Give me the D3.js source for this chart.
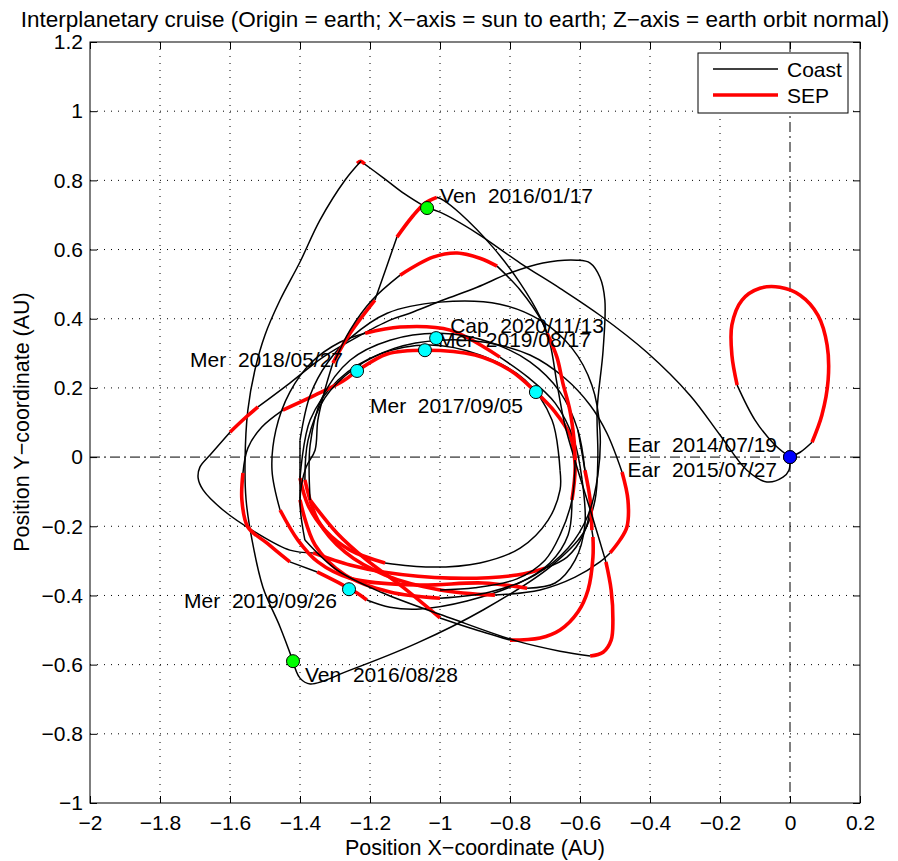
<!DOCTYPE html>
<html>
<head>
<meta charset="utf-8">
<script src="https://cdn.jsdelivr.net/npm/d3@7"></script>
<style>
  body { margin: 0; background: #fff; }
  svg { display: block; }
  text { font-family: "Liberation Sans", Arial, Helvetica, sans-serif; fill: #000; }
</style>
</head>
<body>
<div class="chart"></div>
<script>
'use strict';

/*---------------------------------------------------------------
ticks
---------------------------------------------------------------*/
var xTicks = [-2, -1.8, -1.6, -1.4, -1.2, -1, -0.8, -0.6, -0.4, -0.2, 0, 0.2];
var xTickLabels = ['\u22122', '\u22121.8', '\u22121.6', '\u22121.4', '\u22121.2', '\u22121', '\u22120.8', '\u22120.6', '\u22120.4', '\u22120.2', '0', '0.2'];
var yTicks = [-1, -0.8, -0.6, -0.4, -0.2, 0, 0.2, 0.4, 0.6, 0.8, 1, 1.2];
var yTickLabels = ['\u22121', '\u22120.8', '\u22120.6', '\u22120.4', '\u22120.2', '0', '0.2', '0.4', '0.6', '0.8', '1', '1.2'];

/*---------------------------------------------------------------
trajectory pieces (AU)
---------------------------------------------------------------*/
// earth resonant loop
var earthLoop = [
    [[0, 0], [0.029, 0.014], [0.063, 0.043]],
    [[0.063, 0.043], [0.091, 0.121], [0.109, 0.223], [0.106, 0.324], [0.08, 0.41], [0.029, 0.468], [-0.029, 0.491], [-0.086, 0.488], [-0.137, 0.454], [-0.166, 0.382], [-0.166, 0.295], [-0.151, 0.208]],
    [[-0.151, 0.208], [-0.1, 0.107], [-0.043, 0.035], [0, 0]]
];
var earthLoopTypes = ['coast', 'sep', 'coast'];

// earth -> venus -> apex -> venus
var venusLegs = [
    [[0, 0], [-0.003, -0.038], [-0.02, -0.058], [-0.066, -0.072], [-0.123, -0.038], [-0.2, 0.064], [-0.286, 0.179], [-0.409, 0.303], [-0.543, 0.41], [-0.657, 0.488], [-0.771, 0.561], [-0.894, 0.647], [-1.0, 0.708], [-1.037, 0.72]],
    [[-1.037, 0.72], [-1.1, 0.76], [-1.16, 0.806], [-1.226, 0.855]],
    [[-1.237, 0.849], [-1.226, 0.855], [-1.215, 0.847]],
    [[-1.226, 0.855], [-1.271, 0.801], [-1.343, 0.685], [-1.4, 0.564], [-1.457, 0.454], [-1.5, 0.353], [-1.529, 0.251], [-1.549, 0.136], [-1.557, -0.009], [-1.554, -0.124], [-1.537, -0.24], [-1.506, -0.376], [-1.457, -0.491], [-1.42, -0.59]]
];
var venusLegsTypes = ['coast', 'coast', 'sep', 'coast'];

// after second venus: big loop to the left tip
var outerLoop = [
    [[-1.42, -0.59], [-1.4, -0.639], [-1.371, -0.656], [-1.257, -0.616], [-1.066, -0.538], [-0.877, -0.442], [-0.686, -0.318], [-0.591, -0.22], [-0.557, -0.124], [-0.549, 0], [-0.551, 0.136], [-0.534, 0.309], [-0.529, 0.454], [-0.543, 0.52], [-0.571, 0.561], [-0.609, 0.569], [-0.706, 0.561], [-0.8, 0.532], [-0.894, 0.491], [-0.991, 0.454], [-1.086, 0.416], [-1.143, 0.396], [-1.237, 0.347], [-1.334, 0.289], [-1.429, 0.214], [-1.52, 0.145]],
    [[-1.52, 0.145], [-1.557, 0.113], [-1.6, 0.072]],
    [[-1.6, 0.072], [-1.657, 0.006], [-1.686, -0.029], [-1.691, -0.061], [-1.677, -0.095], [-1.62, -0.153], [-1.523, -0.22], [-1.429, -0.269], [-1.363, -0.277]],
    [[-1.363, -0.277], [-1.257, -0.312], [-1.163, -0.332], [-0.971, -0.35], [-0.78, -0.341], [-0.7, -0.321]],
    [[-0.7, -0.321], [-0.637, -0.289], [-0.591, -0.225], [-0.571, -0.139], [-0.586, -0.038], [-0.606, 0.078]]
];
var outerLoopTypes = ['coast', 'sep', 'coast', 'sep', 'coast'];

// mercury phase loops
var ring1 = [
    [[-0.657, -0.038], [-0.68, 0.107], [-0.757, 0.223], [-0.886, 0.295], [-1.029, 0.324], [-1.171, 0.298], [-1.291, 0.223], [-1.371, 0.107], [-1.4, -0.061]],
    [[-1.4, -0.061], [-1.377, -0.139], [-1.329, -0.211], [-1.257, -0.269], [-1.157, -0.306]],
    [[-1.157, -0.306], [-1.029, -0.318], [-0.886, -0.306], [-0.771, -0.263], [-0.691, -0.182], [-0.657, -0.095], [-0.657, -0.038]]
];
var ring1Types = ['coast', 'sep', 'coast'];

var ring2 = [
    [[-0.623, -0.124], [-0.614, -0.023], [-0.629, 0.064], [-0.671, 0.13], [-0.726, 0.188], [-0.8, 0.251], [-0.9, 0.295], [-1.043, 0.309], [-1.151, 0.298], [-1.237, 0.249], [-1.277, 0.22], [-1.357, 0.179], [-1.449, 0.136]],
    [[-1.449, 0.136], [-1.509, 0.087], [-1.549, 0.026], [-1.563, -0.046]],
    [[-1.563, -0.046], [-1.566, -0.124], [-1.549, -0.202], [-1.494, -0.249], [-1.429, -0.303]],
    [[-1.429, -0.303], [-1.351, -0.332]],
    [[-1.351, -0.332], [-1.277, -0.37], [-1.237, -0.393], [-1.209, -0.413]],
    [[-1.209, -0.413], [-1.143, -0.434], [-1.057, -0.439], [-0.923, -0.416], [-0.78, -0.367], [-0.686, -0.306], [-0.634, -0.225], [-0.623, -0.124]]
];
var ring2Types = ['sep', 'coast', 'sep', 'coast', 'sep', 'coast'];

var ring3 = [
    [[-0.594, -0.066], [-0.617, 0.049], [-0.671, 0.156], [-0.749, 0.231], [-0.829, 0.289]],
    [[-0.829, 0.289], [-0.971, 0.367], [-1.114, 0.376], [-1.214, 0.358]],
    [[-1.214, 0.358], [-1.286, 0.332], [-1.366, 0.275], [-1.429, 0.188], [-1.469, 0.078], [-1.48, -0.038], [-1.457, -0.153]],
    [[-1.457, -0.153], [-1.406, -0.24], [-1.349, -0.303], [-1.257, -0.35], [-1.066, -0.37], [-0.877, -0.364], [-0.751, -0.379]],
    [[-0.751, -0.379], [-0.671, -0.364], [-0.614, -0.298], [-0.586, -0.197], [-0.594, -0.066]]
];
var ring3Types = ['coast', 'sep', 'coast', 'sep', 'coast'];

var ring4 = [
    [[-0.514, -0.277], [-0.486, -0.24], [-0.466, -0.202], [-0.463, -0.124], [-0.48, -0.043]],
    [[-0.48, -0.043], [-0.523, 0.069], [-0.571, 0.15], [-0.643, 0.228], [-0.743, 0.295], [-0.871, 0.332], [-1.0, 0.338], [-1.129, 0.315], [-1.243, 0.257], [-1.329, 0.171], [-1.377, 0.049], [-1.386, -0.066]],
    [[-1.386, -0.066], [-1.349, -0.182], [-1.271, -0.275], [-1.157, -0.341], [-1.0, -0.384], [-0.843, -0.399]],
    [[-0.843, -0.399], [-0.714, -0.384], [-0.614, -0.347], [-0.543, -0.303], [-0.514, -0.277]]
];
var ring4Types = ['sep', 'coast', 'sep', 'coast'];

var ring5 = [
    [[-1.371, -0.124], [-1.294, -0.22], [-1.209, -0.298], [-1.106, -0.376], [-1.0, -0.465]],
    [[-1.0, -0.465], [-0.914, -0.494], [-0.8, -0.529]],
    [[-0.8, -0.529], [-0.714, -0.523], [-0.657, -0.5], [-0.606, -0.448], [-0.577, -0.384], [-0.563, -0.289], [-0.563, -0.231]],
    [[-0.563, -0.231], [-0.566, -0.211]],
    [[-0.566, -0.211], [-0.571, -0.124], [-0.586, -0.038]],
    [[-0.586, -0.038], [-0.606, 0.078], [-0.657, 0.188], [-0.743, 0.275], [-0.857, 0.332], [-1.0, 0.358], [-1.143, 0.338], [-1.257, 0.28], [-1.337, 0.171], [-1.371, 0.035], [-1.371, -0.124]]
];
var ring5Types = ['sep', 'coast', 'sep', 'coast', 'sep', 'coast'];

var ring6 = [
    [[-1.4, 0.049], [-1.371, 0.179], [-1.32, 0.275], [-1.257, 0.344], [-1.151, 0.416], [-1.0, 0.448], [-0.829, 0.442], [-0.714, 0.396], [-0.623, 0.315], [-0.566, 0.208], [-0.543, 0.078], [-0.549, -0.052], [-0.577, -0.168], [-0.634, -0.263], [-0.729, -0.341], [-0.857, -0.39], [-1.0, -0.408]],
    [[-1.0, -0.408], [-1.143, -0.39], [-1.271, -0.341], [-1.357, -0.254], [-1.4, -0.124]],
    [[-1.4, -0.124], [-1.4, 0.049]]
];
var ring6Types = ['coast', 'sep', 'coast'];

// pass over the first venus point
var venusArc = [
    [[-1.386, -0.24], [-1.4, -0.124], [-1.383, -0.03], [-1.357, 0.02], [-1.349, 0.107], [-1.329, 0.194], [-1.306, 0.272]],
    [[-1.306, 0.272], [-1.257, 0.358], [-1.186, 0.454]],
    [[-1.186, 0.454], [-1.154, 0.546], [-1.123, 0.636]],
    [[-1.123, 0.636], [-1.08, 0.694], [-1.043, 0.734], [-1.009, 0.751]],
    [[-1.009, 0.751], [-0.991, 0.743], [-0.943, 0.705], [-0.849, 0.607], [-0.771, 0.503], [-0.714, 0.405], [-0.686, 0.329], [-0.666, 0.214], [-0.643, 0.092], [-0.606, -0.038], [-0.566, -0.168], [-0.526, -0.303]],
    [[-0.526, -0.303], [-0.511, -0.384], [-0.506, -0.471], [-0.511, -0.529], [-0.534, -0.564], [-0.571, -0.575]],
    [[-0.571, -0.575], [-0.657, -0.561], [-0.78, -0.532], [-0.971, -0.465], [-1.163, -0.393], [-1.294, -0.327], [-1.386, -0.24]]
];
var venusArcTypes = ['coast', 'sep', 'coast', 'sep', 'coast', 'sep', 'coast'];

var topArc = [
    [[-1.3, 0.28], [-1.257, 0.367], [-1.194, 0.454], [-1.114, 0.526]],
    [[-1.114, 0.526], [-1.02, 0.578], [-0.951, 0.59], [-0.886, 0.575], [-0.837, 0.552]],
    [[-0.837, 0.552], [-0.771, 0.483], [-0.706, 0.387], [-0.694, 0.358]],
    [[-0.694, 0.358], [-0.666, 0.289], [-0.649, 0.214], [-0.629, 0.136], [-0.617, 0.049], [-0.614, -0.009]],
    [[-0.614, -0.009], [-0.623, -0.124], [-0.657, -0.225], [-0.7, -0.298], [-0.78, -0.352], [-0.9, -0.378], [-1.0, -0.384]]
];
var topArcTypes = ['coast', 'sep', 'coast', 'sep', 'coast'];

/*---------------------------------------------------------------
flybys
---------------------------------------------------------------*/
var flybyBody = ['Ear', 'Ear', 'Ven', 'Ven', 'Mer', 'Mer', 'Mer', 'Mer', 'Cap'];
var flybyDate = ['2014/07/19', '2015/07/27', '2016/01/17', '2016/08/28', '2017/09/05', '2018/05/27', '2019/08/17', '2019/09/26', '2020/11/13'];
var flybyX = [0, 0, -1.037, -1.42, -0.726, -1.237, -1.043, -1.26, -1.011];
var flybyY = [0, 0, 0.72, -0.59, 0.188, 0.249, 0.309, -0.382, 0.344];

var legendNames = ['Coast', 'SEP'];

/*---------------------------------------------------------------
setup
---------------------------------------------------------------*/
var w = 898,
    h = 861;

var x = d3.scaleLinear().domain([-2, 0.2]).range([90, 860]);
var y = d3.scaleLinear().domain([-1, 1.2]).range([803, 42]);

var colour = { coast: '#000000', sep: '#ff0000' };
var width = { coast: 1.5, sep: 3.6 };

var svg = d3.select('.chart')
    .append('svg')
    .attr('width', w)
    .attr('height', h);

svg.append('rect').attr('width', w).attr('height', h).attr('fill', '#fff');

/*---------------------------------------------------------------
grid + zero lines
---------------------------------------------------------------*/
var grid = svg.append('g')
    .attr('stroke', '#000')
    .attr('stroke-width', 1)
    .attr('stroke-dasharray', '1,6');

grid.selectAll('.gx')
    .data(xTicks.slice(1, -1).filter(function(d) { return d !== 0; }))
    .enter()
    .append('line')
    .attr('x1', function(d) { return x(d); })
    .attr('x2', function(d) { return x(d); })
    .attr('y1', y(1.2))
    .attr('y2', y(-1));

grid.selectAll('.gy')
    .data(yTicks.slice(1, -1).filter(function(d) { return d !== 0; }))
    .enter()
    .append('line')
    .attr('y1', function(d) { return y(d); })
    .attr('y2', function(d) { return y(d); })
    .attr('x1', x(-2))
    .attr('x2', x(0.2));

var zero = svg.append('g')
    .attr('stroke', '#000')
    .attr('stroke-width', 1)
    .attr('stroke-dasharray', '10,4,2,4');
zero.append('line').attr('x1', x(-2)).attr('x2', x(0.2)).attr('y1', y(0)).attr('y2', y(0));
zero.append('line').attr('x1', x(0)).attr('x2', x(0)).attr('y1', y(1.2)).attr('y2', y(-1));

/*---------------------------------------------------------------
trajectory
---------------------------------------------------------------*/
var segments = [];
[
    [earthLoop, earthLoopTypes],
    [venusLegs, venusLegsTypes],
    [outerLoop, outerLoopTypes],
    [ring1, ring1Types],
    [ring2, ring2Types],
    [ring3, ring3Types],
    [ring4, ring4Types],
    [ring5, ring5Types],
    [ring6, ring6Types],
    [venusArc, venusArcTypes],
    [topArc, topArcTypes]
].forEach(function(group) {
    group[0].forEach(function(pts, i) {
        segments.push({ type: group[1][i], pts: pts });
    });
});

var line = d3.line()
    .x(function(d) { return x(d[0]); })
    .y(function(d) { return y(d[1]); })
    .curve(d3.curveCatmullRom.alpha(0.5));

var traj = svg.append('g').attr('fill', 'none');

traj.selectAll('path')
    .data(segments)
    .enter()
    .append('path')
    .attr('d', function(d) { return line(d.pts); })
    .attr('stroke', function(d) { return colour[d.type]; })
    .attr('stroke-width', function(d) { return width[d.type]; })
    .attr('stroke-linejoin', 'round');

/*---------------------------------------------------------------
flyby labels + dots
---------------------------------------------------------------*/
var labelOffset = [[-13, -5, 'end'], [-13, 20, 'end'], [13, -5, 'start'], [12, 21, 'start'], [-13, 21, 'end'], [-14, -4, 'end'], [13, -3, 'start'], [-12, 19, 'end'], [14, -5, 'start']];
var dotColour = { Ear: '#0000ff', Ven: '#00ff00', Mer: '#00ffff', Cap: '#00ffff' };

svg.append('g').selectAll('text')
    .data(flybyBody)
    .enter()
    .append('text')
    .attr('x', function(d, i) { return x(flybyX[i]) + labelOffset[i][0]; })
    .attr('y', function(d, i) { return y(flybyY[i]) + labelOffset[i][1]; })
    .attr('text-anchor', function(d, i) { return labelOffset[i][2]; })
    .attr('font-size', '21px')
    .text(function(d, i) { return d + '\u00a0 ' + flybyDate[i]; });

svg.append('g').selectAll('circle')
    .data(flybyBody)
    .enter()
    .append('circle')
    .attr('cx', function(d, i) { return x(flybyX[i]); })
    .attr('cy', function(d, i) { return y(flybyY[i]); })
    .attr('r', 6.5)
    .attr('fill', function(d) { return dotColour[d]; })
    .attr('stroke', '#000')
    .attr('stroke-width', 1);

/*---------------------------------------------------------------
axes
---------------------------------------------------------------*/
function styleAxis(g) {
    g.select('.domain').remove();
    g.selectAll('.tick line').attr('stroke', '#000');
    g.selectAll('.tick text').attr('font-size', '21px').attr('fill', '#000');
    g.attr('font-family', null).attr('font-size', null);
}

svg.append('g')
    .attr('transform', 'translate(0,' + y(-1) + ')')
    .call(d3.axisBottom(x).tickValues(xTicks).tickFormat(function(d, i) { return xTickLabels[i]; })
        .tickSizeInner(-7).tickSizeOuter(0).tickPadding(12))
    .call(styleAxis);

svg.append('g')
    .attr('transform', 'translate(0,' + y(1.2) + ')')
    .call(d3.axisTop(x).tickValues(xTicks).tickFormat('').tickSizeInner(-7).tickSizeOuter(0))
    .call(styleAxis);

svg.append('g')
    .attr('transform', 'translate(' + x(-2) + ',0)')
    .call(d3.axisLeft(y).tickValues(yTicks).tickFormat(function(d, i) { return yTickLabels[i]; })
        .tickSizeInner(-7).tickSizeOuter(0).tickPadding(7))
    .call(styleAxis);

svg.append('g')
    .attr('transform', 'translate(' + x(0.2) + ',0)')
    .call(d3.axisRight(y).tickValues(yTicks).tickFormat('').tickSizeInner(-7).tickSizeOuter(0))
    .call(styleAxis);

svg.append('rect')
    .attr('x', x(-2)).attr('y', y(1.2))
    .attr('width', x(0.2) - x(-2)).attr('height', y(-1) - y(1.2))
    .attr('fill', 'none').attr('stroke', '#000').attr('stroke-width', 1);

/*---------------------------------------------------------------
titles
---------------------------------------------------------------*/
svg.append('text')
    .attr('x', 455).attr('y', 27)
    .attr('text-anchor', 'middle')
    .attr('font-size', '22.5px')
    .text('Interplanetary cruise (Origin = earth; X\u2212axis = sun to earth; Z\u2212axis = earth orbit normal)');

svg.append('text')
    .attr('x', 475).attr('y', 855)
    .attr('text-anchor', 'middle')
    .attr('font-size', '21.5px')
    .text('Position X\u2212coordinate (AU)');

svg.append('text')
    .attr('transform', 'translate(29,422) rotate(-90)')
    .attr('text-anchor', 'middle')
    .attr('font-size', '21.5px')
    .text('Position Y\u2212coordinate (AU)');

/*---------------------------------------------------------------
legend
---------------------------------------------------------------*/
var legend = svg.append('g');
legend.append('rect')
    .attr('x', 698).attr('y', 53).attr('width', 150).attr('height', 60)
    .attr('fill', '#fff').attr('stroke', '#000').attr('stroke-width', 1);

legend.selectAll('line')
    .data(legendNames)
    .enter()
    .append('line')
    .attr('x1', 713).attr('x2', 778)
    .attr('y1', function(d, i) { return 69 + i * 26; })
    .attr('y2', function(d, i) { return 69 + i * 26; })
    .attr('stroke', function(d, i) { return i === 0 ? colour.coast : colour.sep; })
    .attr('stroke-width', function(d, i) { return i === 0 ? width.coast : width.sep; });

legend.selectAll('text')
    .data(legendNames)
    .enter()
    .append('text')
    .attr('x', 787)
    .attr('y', function(d, i) { return 77 + i * 26; })
    .attr('font-size', '21px')
    .text(function(d) { return d; });
</script>
</body>
</html>
